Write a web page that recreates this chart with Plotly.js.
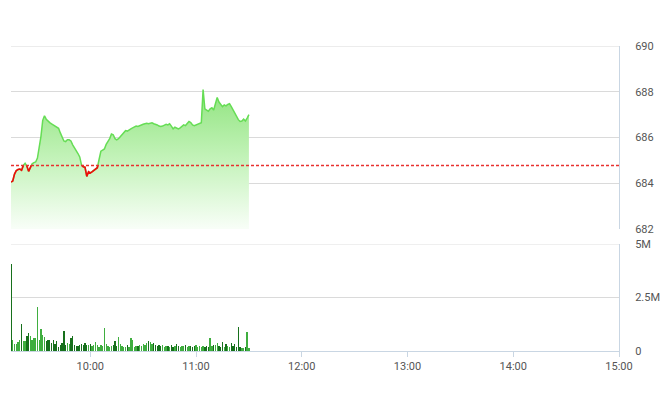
<!DOCTYPE html>
<html>
<head>
<meta charset="utf-8">
<script src="https://cdn.plot.ly/plotly-3.0.1.min.js"></script>
<style>html,body{margin:0;padding:0;background:#fff;}#chart{width:660px;height:412px;}</style>
</head>
<body>
<div id="chart"></div>
<script>
// ---- data ----
const TIMES = [
 "09:15","09:16","09:17","09:18","09:19","09:20","09:21","09:22","09:23","09:24",
 "09:25","09:26","09:27","09:28","09:29","09:30","09:31","09:32","09:33","09:34",
 "09:35","09:36","09:37","09:38","09:39","09:40","09:41","09:42","09:43","09:44",
 "09:45","09:46","09:47","09:48","09:49","09:50","09:51","09:52","09:53","09:54",
 "09:55","09:56","09:57","09:58","09:59","10:00","10:01","10:02","10:03","10:04",
 "10:05","10:06","10:07","10:08","10:09","10:10","10:11","10:12","10:13","10:14",
 "10:15","10:16","10:17","10:18","10:19","10:20","10:21","10:22","10:23","10:24",
 "10:25","10:26","10:27","10:28","10:29","10:30","10:31","10:32","10:33","10:34",
 "10:35","10:36","10:37","10:38","10:39","10:40","10:41","10:42","10:43","10:44",
 "10:45","10:46","10:47","10:48","10:49","10:50","10:51","10:52","10:53","10:54",
 "10:55","10:56","10:57","10:58","10:59","11:00","11:01","11:02","11:03","11:04",
 "11:05","11:06","11:07","11:08","11:09","11:10","11:11","11:12","11:13","11:14",
 "11:15","11:16","11:17","11:18","11:19","11:20","11:21","11:22","11:23","11:24",
 "11:25","11:26","11:27","11:28","11:29","11:30"
];
const PRICES = [
 684.05,684.10,684.40,684.55,684.60,684.62,684.57,684.78,684.87,684.75,
 684.52,684.70,684.85,684.90,684.93,685.10,685.55,686.05,686.75,686.95,
 686.80,686.70,686.65,686.60,686.55,686.50,686.45,686.40,686.20,686.05,
 685.85,685.82,685.90,685.90,685.85,685.68,685.55,685.48,685.30,685.15,
 684.80,684.72,684.70,684.30,684.50,684.45,684.50,684.55,684.60,684.68,
 685.05,685.40,685.45,685.50,685.70,685.80,685.95,686.15,686.12,685.95,
 685.90,685.95,686.05,686.15,686.25,686.30,686.28,686.35,686.38,686.42,
 686.45,686.50,686.48,686.52,686.55,686.58,686.60,686.62,686.60,686.62,
 686.64,686.60,686.58,686.55,686.50,686.48,686.50,686.55,686.58,686.55,
 686.60,686.50,686.38,686.45,686.42,686.38,686.42,686.50,686.55,686.52,
 686.60,686.70,686.65,686.55,686.52,686.55,686.60,686.62,686.65,688.10,
 687.25,687.20,687.15,687.25,687.30,687.20,687.50,687.75,687.55,687.45,
 687.35,687.42,687.38,687.45,687.48,687.35,687.20,687.05,686.88,686.78,
 686.70,686.72,686.80,686.72,686.85,687.00
];
// volume in millions of shares
const VOLUMES = [
 4.05,0.52,0.33,0.33,0.41,0.52,1.26,0.45,0.48,0.68,
 0.83,0.70,0.52,0.63,0.60,2.06,0.52,1.04,0.75,0.65,
 0.45,0.52,0.52,0.39,0.52,0.33,0.45,0.17,0.28,0.36,
 0.94,0.28,0.36,0.33,0.60,0.68,0.28,0.24,0.24,0.28,
 0.33,0.28,0.36,0.30,0.30,0.33,0.24,0.28,0.42,0.30,
 0.17,0.28,0.24,1.07,0.33,0.24,0.17,0.24,0.28,0.47,
 0.24,0.64,0.33,0.24,0.17,0.20,0.28,0.17,0.60,0.52,
 0.20,0.25,0.22,0.30,0.25,0.33,0.30,0.36,0.49,0.42,
 0.33,0.36,0.30,0.25,0.30,0.22,0.30,0.20,0.25,0.22,
 0.20,0.30,0.17,0.25,0.33,0.22,0.17,0.22,0.25,0.30,
 0.20,0.25,0.22,0.20,0.25,0.28,0.20,0.22,0.20,0.22,
 0.20,0.25,0.20,0.60,0.22,0.28,0.30,0.36,0.22,0.20,
 0.40,0.20,0.33,0.25,0.20,0.36,0.22,0.33,0.20,1.12,
 0.20,0.12,0.15,0.20,0.91,0.12
];
const REF_PRICE = 684.78;
const SESSION_START = "09:15";
const SESSION_END = "15:00";
const X_TICKS = ["10:00","11:00","12:00","13:00","14:00","15:00"];
const PRICE_TICKS = [682,684,686,688,690];
const VOL_TICKS = [0,2.5,5];
const VOL_TICK_LABELS = ["0","2.5M","5M"];

// ---- helpers ----
function toMs(t){ const [h,m]=t.split(":").map(Number); return Date.UTC(2024,0,2,h,m); }
const X = TIMES.map(toMs);

// red portion of the line (below reference price)
const rx=[], ry=[];
for(let i=0;i<PRICES.length;i++){
  const below = PRICES[i] < REF_PRICE;
  if(below){ rx.push(X[i]); ry.push(PRICES[i]); }
  if(i<PRICES.length-1){
    const nb = PRICES[i+1] < REF_PRICE;
    if(below!==nb){
      const t=(REF_PRICE-PRICES[i])/(PRICES[i+1]-PRICES[i]);
      rx.push(X[i]+t*(X[i+1]-X[i])); ry.push(REF_PRICE);
      if(below){ rx.push(null); ry.push(null); }
    }
  }
}
const volColors = VOLUMES.map((v,i)=> (i===0 || PRICES[i]<PRICES[i-1]) ? "#17701c" : "#3fae3f");

const tickFont = {family:"Roboto, Arial, sans-serif", size:11, color:"#555"};
const axisLine = "#c9d6e3";
const gridCol = "#dadada";
const pMin = Math.min(...PRICE_TICKS), pMax = Math.max(...PRICE_TICKS);
const vMax = Math.max(...VOL_TICKS);

const traces = [
  {x:X, y:PRICES, type:"scatter", mode:"lines", xaxis:"x", yaxis:"y",
   line:{color:"#66dd55", width:1.5}, fill:"tozeroy",
   fillgradient:{type:"vertical", start:682, stop:688,
     colorscale:[[0,"rgba(248,254,247,1)"],[0.5,"rgba(196,243,186,1)"],[1,"rgba(145,228,128,1)"]]},
   hoverinfo:"skip"},
  {x:rx, y:ry, type:"scatter", mode:"lines", xaxis:"x", yaxis:"y",
   line:{color:"#f00a0a", width:1.6}, connectgaps:false, hoverinfo:"skip"},
  {x:X, y:VOLUMES, type:"bar", xaxis:"x", yaxis:"y2",
   marker:{color:volColors, line:{width:0}}, width:45000, hoverinfo:"skip"}
];

const layout = {
  width:660, height:412,
  margin:{l:11, r:41, t:46, b:61},
  paper_bgcolor:"#fff", plot_bgcolor:"#fff",
  showlegend:false, bargap:0,
  xaxis:{type:"date", anchor:"y2", range:[toMs(SESSION_START), toMs(SESSION_END)],
    tickvals:X_TICKS.map(toMs), ticktext:X_TICKS,
    ticks:"outside", ticklen:5, tickcolor:axisLine,
    showline:true, linecolor:axisLine, linewidth:1,
    showgrid:false, zeroline:false, tickfont:tickFont, fixedrange:true},
  yaxis:{domain:[0.4,1], range:[pMin,pMax], side:"right", anchor:"x",
    tickvals:PRICE_TICKS, ticktext:PRICE_TICKS.map(String),
    ticks:"outside", ticklen:13, tickcolor:"rgba(0,0,0,0)",
    showline:true, linecolor:axisLine, linewidth:1,
    showgrid:true, gridcolor:gridCol, gridwidth:1, zeroline:false, tickfont:tickFont},
  yaxis2:{domain:[0,0.351], range:[0,vMax], side:"right", anchor:"x",
    tickvals:VOL_TICKS, ticktext:VOL_TICK_LABELS,
    ticks:"outside", ticklen:13, tickcolor:"rgba(0,0,0,0)",
    showline:true, linecolor:axisLine, linewidth:1,
    showgrid:true, gridcolor:gridCol, gridwidth:1, zeroline:false, tickfont:tickFont},
  shapes:[
    // top grid lines of each panel (Plotly skips grid lines on the panel edge)
    {type:"line", xref:"paper", yref:"y", x0:0, x1:1, y0:pMax, y1:pMax, layer:"below",
     line:{color:gridCol, width:1}},
    {type:"line", xref:"paper", yref:"y2", x0:0, x1:1, y0:vMax, y1:vMax, layer:"below",
     line:{color:gridCol, width:1}},
    {type:"line", xref:"paper", yref:"y", x0:0, x1:1, y0:REF_PRICE, y1:REF_PRICE,
     line:{color:"#e8302f", width:1.5, dash:"3px,2px"}}]
};

Plotly.newPlot("chart", traces, layout, {displayModeBar:false, staticPlot:true});
</script>
</body>
</html>
